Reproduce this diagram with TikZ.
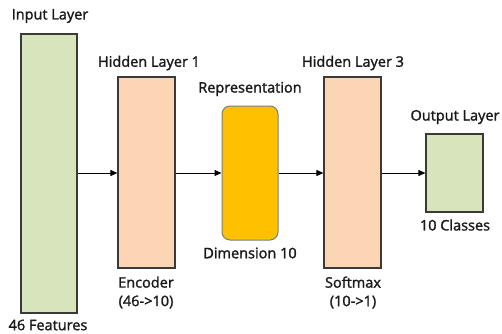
\documentclass[tikz,border=0pt]{standalone}
\usepackage{fontspec}
\setmainfont{Open Sans}
\newfontfamily\lblfont[FakeBold=1.6]{Open Sans}
\usetikzlibrary{arrows.meta}
\definecolor{ingreen}{HTML}{D8E4BC}
\definecolor{peach}{HTML}{FCD5B5}
\definecolor{gold}{HTML}{FFC000}
\definecolor{rimblue}{HTML}{6F7F8F}
\definecolor{edge}{HTML}{3A3A3A}
\tikzset{
  x=1pt,y=1pt,
  layer/.style={draw=edge, line width=1.2pt, inner sep=0pt},
  lbl/.style={font=\lblfont\fontsize{14.5}{18.5}\selectfont, text=black!90, inner sep=0pt, align=center},
  conn/.style={-{Triangle[length=7pt,width=6pt]}, line width=1pt, draw=black}
}
\begin{document}
\begin{tikzpicture}
\useasboundingbox (0,0) rectangle (502,333);
% boxes (y flipped: tikz y = 333 - pixel y)
\node[layer, fill=ingreen, minimum width=56pt, minimum height=279pt] (in) at (49,159.5) {};
\node[layer, fill=peach, minimum width=57pt, minimum height=191pt] (h1) at (146.5,160.5) {};
\node[draw=rimblue, line width=1pt, fill=gold, rounded corners=8pt, minimum width=56pt, minimum height=134pt, inner sep=0pt] (rep) at (250,160) {};
\node[layer, fill=peach, minimum width=57pt, minimum height=191pt] (h3) at (352.5,160.5) {};
\node[layer, fill=ingreen, minimum width=57pt, minimum height=78pt] (out) at (454.5,160) {};
% labels
\node[lbl] (tin) at (50,317) {Input Layer};
\node[lbl] (th1) at (149,270) {Hidden Layer 1};
\node[lbl] (trep) at (250,244) {Representation};
\node[lbl] (th3) at (353,270) {Hidden Layer 3};
\node[lbl] (tout) at (455,216) {Output Layer};
\node[lbl] (bin) at (48,8) {46 Features};
\node[lbl] (bh1) at (146,40.5) {Encoder\\(46->10)};
\node[lbl] (brep) at (250,80) {Dimension 10};
\node[lbl] (bh3) at (353,40.5) {Softmax\\(10->1)};
\node[lbl] (bout) at (455,108) {10 Classes};
% connectors
\draw[conn] (in.east |- 0,160) -- (h1.west |- 0,160);
\draw[conn] (h1.east |- 0,160) -- (rep.west |- 0,160);
\draw[conn] (rep.east |- 0,160) -- (h3.west |- 0,160);
\draw[conn] (h3.east |- 0,160) -- (out.west |- 0,160);
\end{tikzpicture}
\end{document}
